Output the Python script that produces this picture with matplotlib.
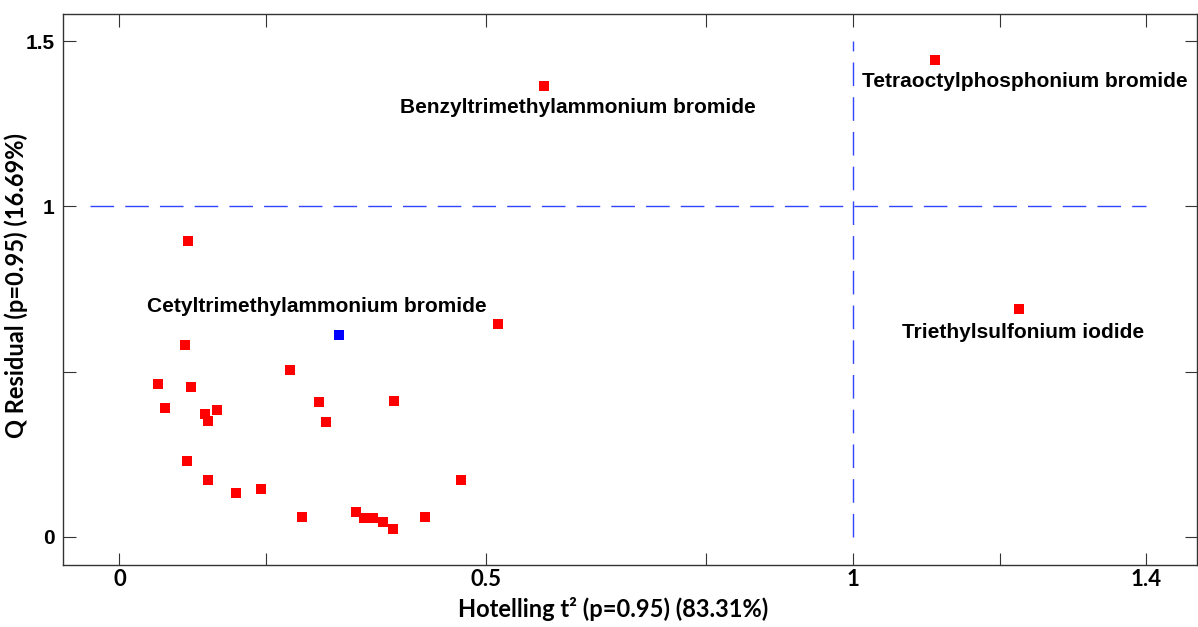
import matplotlib
matplotlib.use("Agg")
import matplotlib.pyplot as plt

# Hotelling t2 vs Q residual values
t2_red = [0.093, 0.090, 0.232, 0.052, 0.098, 0.062, 0.117, 0.133, 0.121,
          0.272, 0.374, 0.282, 0.092, 0.121, 0.159, 0.193, 0.249, 0.322,
          0.333, 0.346, 0.360, 0.373, 0.417, 0.465, 0.516, 0.579, 1.112, 1.226]
q_red = [0.895, 0.581, 0.506, 0.463, 0.454, 0.391, 0.372, 0.384, 0.352,
         0.408, 0.411, 0.348, 0.230, 0.172, 0.132, 0.146, 0.061, 0.074,
         0.058, 0.058, 0.045, 0.025, 0.061, 0.172, 0.645, 1.364, 1.442, 0.690]
t2_blue = [0.299]
q_blue = [0.610]

# labels and where they sit
labels = ["Benzyltrimethylammonium bromide", "Tetraoctylphosphonium bromide",
          "Cetyltrimethylammonium bromide", "Triethylsulfonium iodide"]
label_x = [0.625, 1.235, 0.269, 1.232]
label_y = [1.30, 1.379, 0.697, 0.618]

t2_limit = 1.0
q_limit = 1.0

fig = plt.figure(figsize=(11.98, 6.27), dpi=100)
ax = fig.add_axes([0.0526, 0.0989, 0.9464, 0.8788])

ax.plot(t2_red, q_red, "s", color="#ff0000", markersize=7, markeredgewidth=0)
ax.plot(t2_blue, q_blue, "s", color="#0000ff", markersize=7, markeredgewidth=0)

# confidence limits
ax.plot([-0.04, 1.4], [q_limit, q_limit], color="#3344ff", lw=1, dashes=(17, 8))
ax.plot([t2_limit, t2_limit], [0, 1.5], color="#3344ff", lw=1, dashes=(17, 8))

for txt, x, y in zip(labels, label_x, label_y):
    ax.text(x, y, txt, ha="center", va="center", fontsize=15,
            fontweight="bold", family="Liberation Sans")

ax.set_xlim(-0.077, 1.469)
ax.set_ylim(-0.085, 1.582)

ax.set_xticks([0, 0.2, 0.5, 0.8, 1, 1.2, 1.4])
ax.set_xticklabels(["0", "", "0.5", "", "1", "", "1.4"],
                   fontsize=16, fontweight="bold", family="Lato")
ax.set_yticks([0, 0.5, 1, 1.5])
ax.set_yticklabels(["0", "", "1", "1.5"], fontsize=15, fontweight="bold",
                   family="Liberation Sans")

ax.tick_params(direction="in", length=9, width=0.8, top=True, right=True,
               colors="#333333", labelcolor="black")
ax.tick_params(axis="x", pad=3)
ax.tick_params(axis="y", pad=6)
for s in ax.spines.values():
    s.set_color("#333333")
    s.set_linewidth(1)

ax.set_xlabel("Hotelling t² (p=0.95) (83.31%)", fontsize=17, fontweight="bold",
              family="Lato")
ax.set_ylabel("Q Residual (p=0.95) (16.69%)", fontsize=17, fontweight="bold",
              family="Lato")
ax.xaxis.set_label_coords(0.485, -0.058)
ax.yaxis.set_label_coords(-0.031, 0.508)

fig.savefig("out.png", dpi=100)
